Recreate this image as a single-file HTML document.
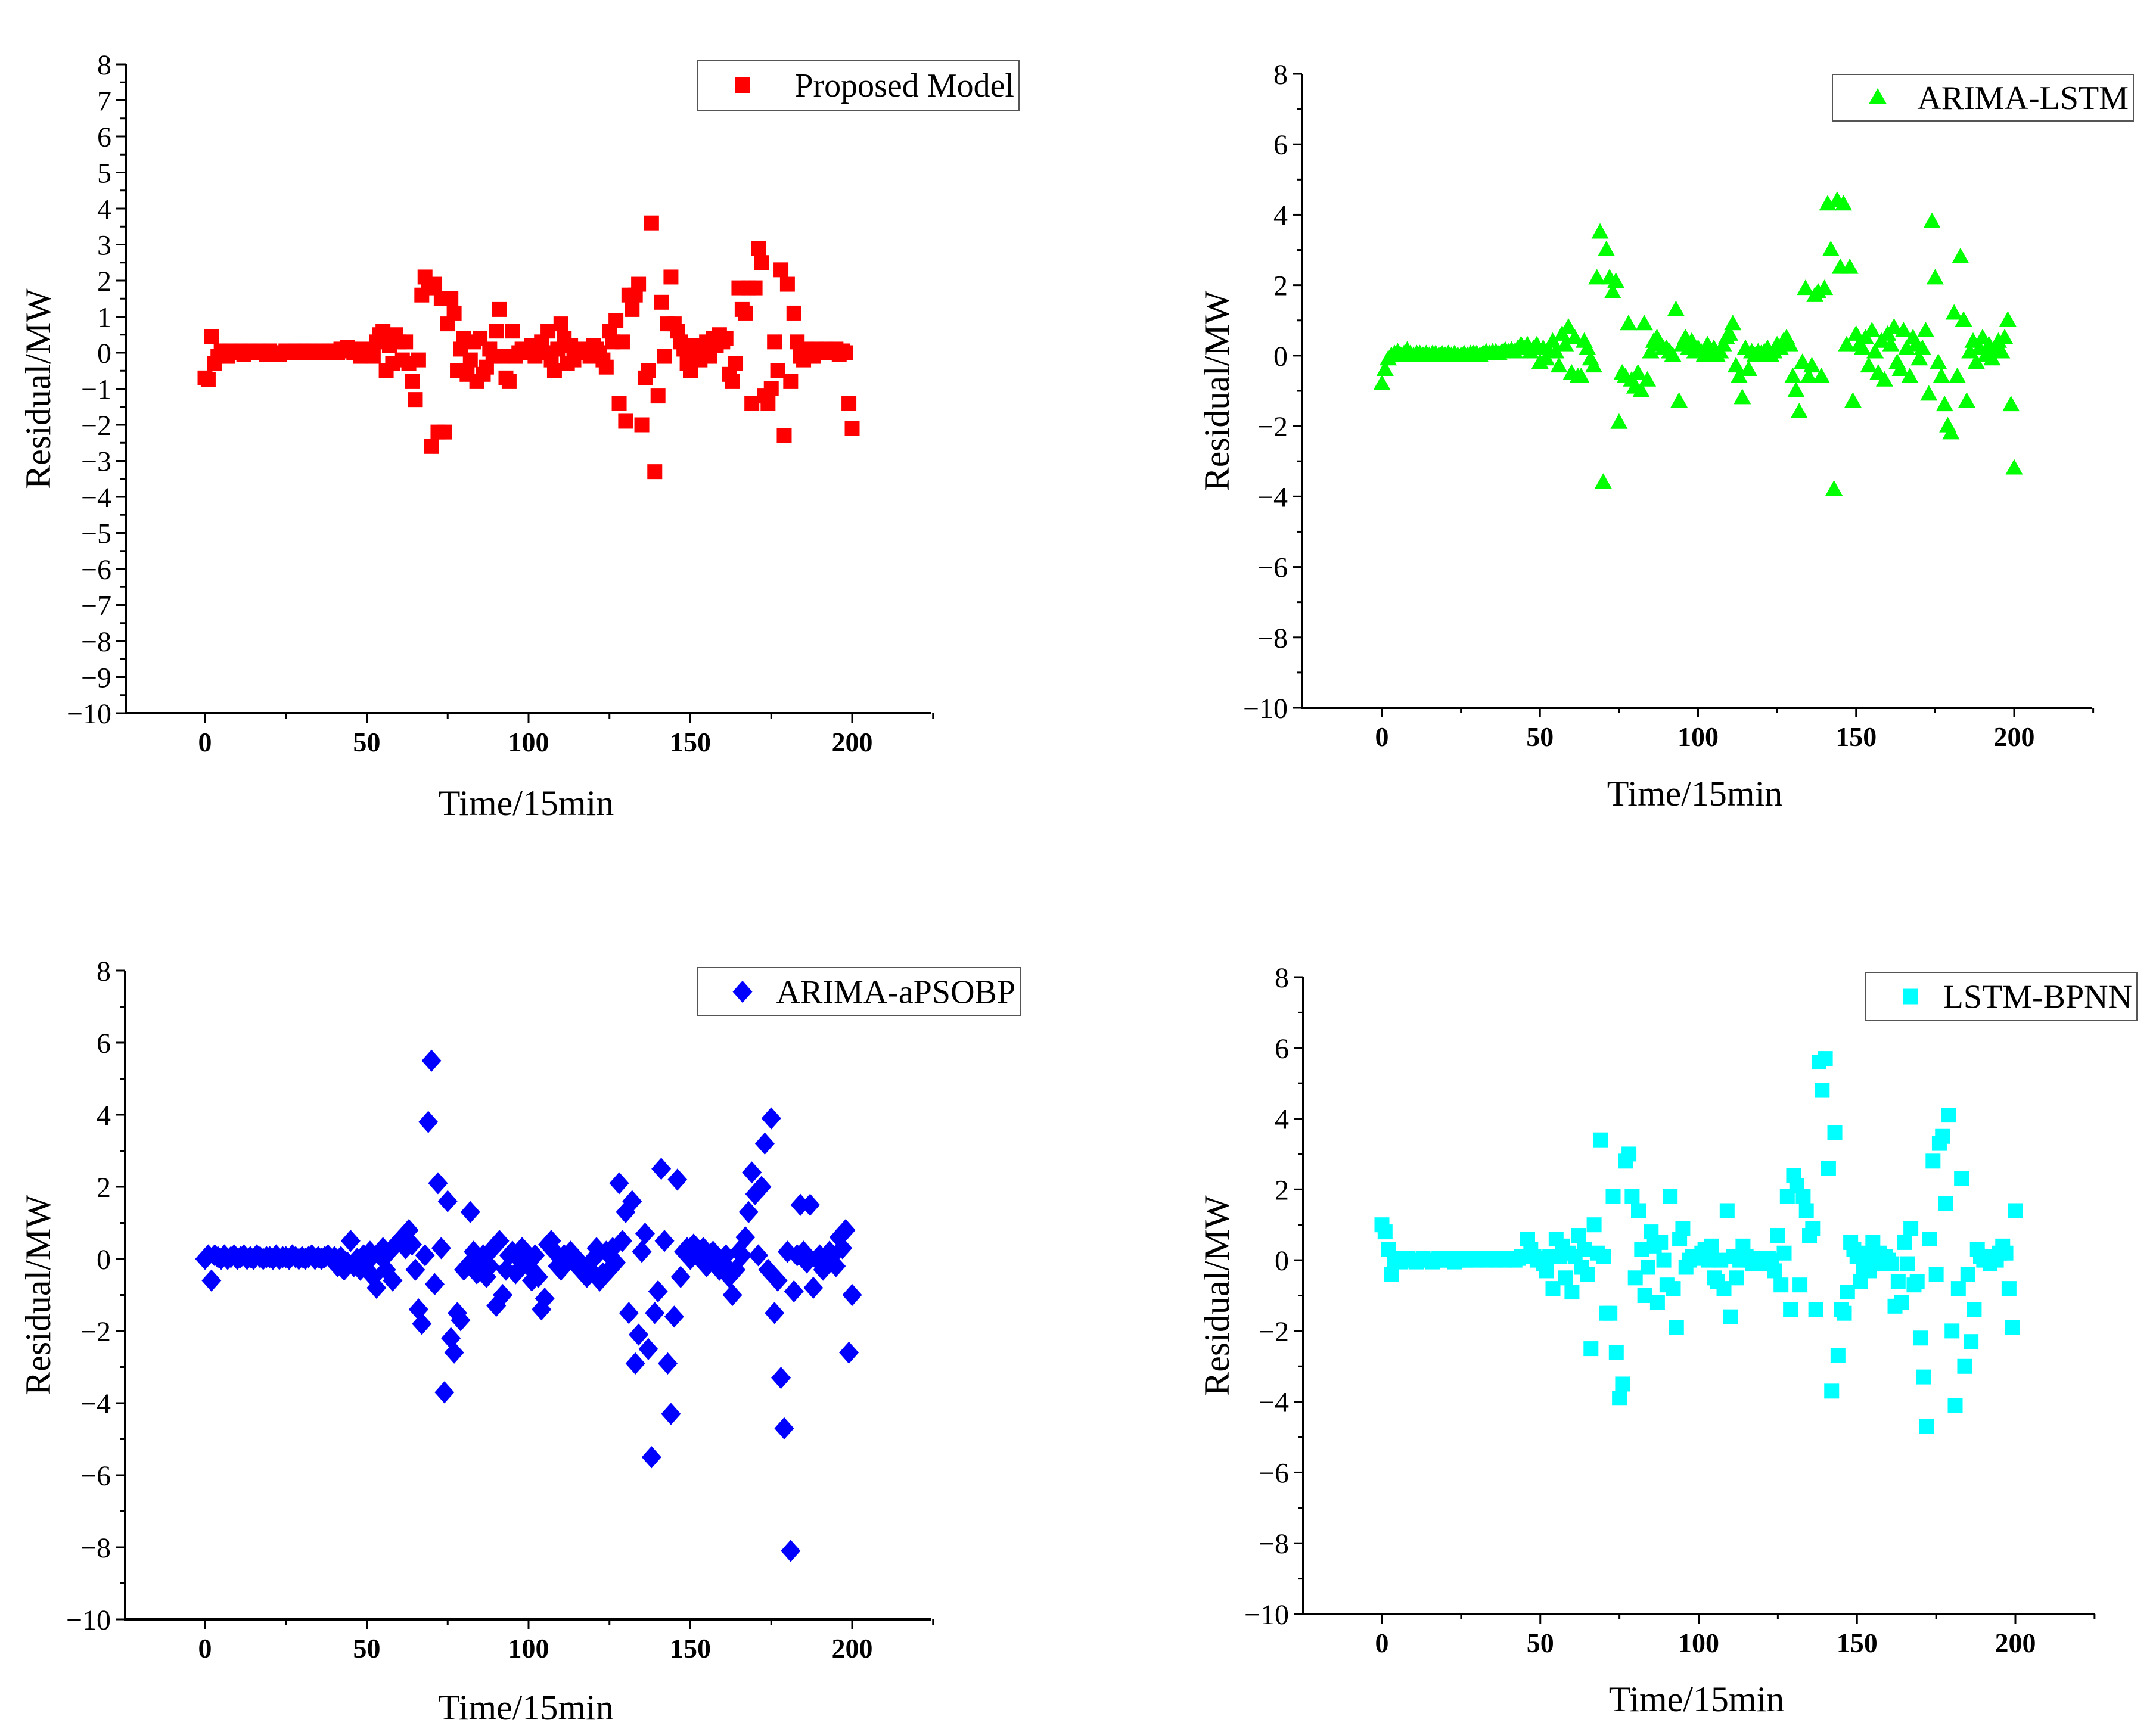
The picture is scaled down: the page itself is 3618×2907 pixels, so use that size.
<!DOCTYPE html>
<html><head><meta charset="utf-8"><style>
html,body{margin:0;padding:0;background:#fff}
svg{display:block}
text{font-family:"Liberation Serif",serif;fill:#000}
</style></head><body>
<svg id="chart" width="3618" height="2907" viewBox="0 0 3618 2907" xmlns="http://www.w3.org/2000/svg"></svg>
<script>
const xTickLabels = [0, 50, 100, 150, 200];
const yTicksFine = [8,7,6,5,4,3,2,1,0,-1,-2,-3,-4,-5,-6,-7,-8,-9,-10];
const yTicksCoarse = [8,6,4,2,0,-2,-4,-6,-8,-10];
const seriesNames = ["Proposed Model","ARIMA-LSTM","ARIMA-aPSOBP","LSTM-BPNN"];
const redVals = [-0.7,-0.75,0.45,-0.3,-0.1,0.05,0,-0.1,0.05,0,
0,0.05,-0.05,0,0.05,0,0,0.05,0,-0.05,
0.05,0,0,-0.05,0,0.05,0,0,0.05,0,
0.05,0.05,0,0.05,0,0,0.05,0,0.05,0,
0.05,0,0.1,0.05,0.15,0.1,0,0.05,-0.1,0.1,
0,0.05,-0.1,0.3,0.5,0.6,-0.5,0.2,-0.3,0.5,
0.3,-0.2,0.3,-0.3,-0.8,-1.3,-0.2,1.6,2.1,1.8,
-2.6,1.9,-2.2,1.5,-2.2,0.8,1.5,1.1,-0.5,0.1,
0.4,-0.6,-0.2,0.3,-0.8,0.4,-0.6,-0.4,0.1,-0.1,
0.6,1.2,-0.1,-0.7,-0.8,0.6,-0.1,0,0.1,0,
0.05,0.2,-0.1,0.2,0.3,0,0.6,-0.2,-0.5,0.1,
0.8,0.4,-0.3,0.2,-0.2,0,0.1,0.05,0,-0.1,
0.2,0.1,0,-0.2,-0.4,0.6,0.3,0.9,-1.4,0.3,
-1.9,1.6,1.2,1.6,1.9,-2.0,-0.7,-0.5,3.6,-3.3,
-1.2,1.4,-0.1,0.8,2.1,0.8,0.6,0.3,0.1,-0.3,
-0.5,0.2,0,-0.2,0.1,0.3,-0.1,0.4,0.2,0.5,
0.3,0.4,-0.6,-0.8,-0.3,1.8,1.2,1.1,1.8,-1.4,
1.8,2.9,2.5,-1.2,-1.4,-1.0,0.3,-0.5,2.3,-2.3,
1.9,-0.8,1.1,0.3,-0.1,-0.2,0.1,0,-0.1,0.1,
0.05,0,0.1,0,0.05,0.1,-0.05,0.05,0,-1.4,-2.1];
const greenVals = [-0.8,-0.4,-0.1,0,0.05,0.1,0,0.05,0.15,0.05,
0,0.05,0.05,0,0.05,0,0.05,0.05,0,0.05,
0,0.05,0,0.05,0,0,0.05,0,0.05,0.05,
0.05,0,0.05,0.1,0.05,0.1,0.1,0.05,0.1,0.15,
0.1,0.15,0.1,0.2,0.3,0.2,0.3,0.1,0.2,0.3,
-0.2,0.2,-0.1,0.1,0.4,0.1,-0.3,0.6,0.3,0.8,
-0.5,0.5,-0.6,-0.6,0.4,0.2,-0.1,-0.3,2.2,3.5,
-3.6,3.0,2.2,1.8,2.1,-1.9,-0.5,-0.6,0.9,-0.7,
-0.9,-0.5,-1.0,0.9,-0.7,0.1,0.4,0.5,0.3,0.2,
0.2,0.1,0,1.3,-1.3,0.3,0.5,0.2,0.4,0.1,
0.2,0.1,0,0.3,0.1,0.2,0,0.1,0.3,0.5,
0.6,0.9,-0.3,-0.6,-1.2,0.2,-0.4,0.1,0,0.1,
0.05,0.1,0.2,0,0.1,0.3,0.2,0.4,0.5,0.3,
-0.6,-1.0,-1.6,-0.2,1.9,-0.6,-0.3,1.7,1.8,-0.6,
1.9,4.3,3.0,-3.8,4.4,2.5,4.3,0.3,2.5,-1.3,
0.6,0.3,0.2,0.5,-0.3,0.7,0.1,-0.5,0.4,-0.7,
0.6,0.3,0.8,-0.2,-0.4,0.7,0.2,-0.6,0.5,0.3,
-0.1,0.2,0.7,-1.1,3.8,2.2,-0.2,-0.6,-1.4,-2.0,
-2.2,1.2,-0.6,2.8,1.0,-1.3,0.1,0.4,-0.2,0.2,
0.5,0,0.3,-0.1,0.2,0.4,0.1,0.5,1.0,-1.4,-3.2];
const blueVals = [0,0.1,-0.6,0.1,0.05,0,0.1,0,0.05,0.1,
0,0.05,0.1,0,0.05,0,0.1,0.05,0,0.05,
0.05,0,0.1,0,0.05,0.05,0,0.1,0.05,0,
0.05,0,0.05,0.1,0,0.05,0,0.05,0.1,0,
0.05,-0.2,0.05,-0.3,-0.1,0.5,-0.2,0,-0.3,0.1,
-0.1,0.2,-0.5,-0.8,0.1,0.3,-0.3,0.2,-0.6,0.4,
0.5,0.6,0.3,0.8,0.4,-0.3,-1.4,-1.8,0.1,3.8,
5.5,-0.7,2.1,0.3,-3.7,1.6,-2.2,-2.6,-1.5,-1.7,
-0.3,-0.2,1.3,0.2,-0.4,0,0.1,-0.5,-0.2,0.3,
-1.3,0.5,-1.0,-0.3,0.1,0.2,-0.4,0,0.3,0.2,
-0.2,-0.6,0.1,-0.5,-1.4,-1.1,0.4,0.5,0.2,-0.2,
-0.3,0.1,0,0.2,-0.1,0,-0.2,-0.4,-0.5,-0.3,
0,0.3,-0.6,-0.4,0.2,-0.3,0.3,-0.1,2.1,0.5,
1.3,-1.5,1.6,-2.9,-2.1,0.2,0.7,-2.5,-5.5,-1.5,
-0.9,2.5,0.5,-2.9,-4.3,-1.6,2.2,-0.5,0.2,0.3,
0,0.4,0.1,0.2,0.3,-0.2,0,0.2,0.1,-0.3,
-0.1,0.1,-0.5,-1.0,-0.3,0.2,0.1,0.6,1.3,2.4,
1.8,0.1,2.0,3.2,-0.3,3.9,-1.5,-0.6,-3.3,-4.7,
0.2,-8.1,-0.9,0.1,1.5,0.2,-0.1,1.5,-0.8,0,
0.1,-0.3,0,0.2,0.1,-0.2,0.6,0.3,0.8,-2.6,-1.0];
const cyanVals = [1.0,0.8,0.3,-0.4,0,0.05,-0.05,0,0.05,0,
0,-0.05,0,0.05,0,0,-0.05,0,0.05,0,
0,0.05,0,-0.05,0,0.05,0,0,0.05,0.05,
0,0.05,0.05,0,0.05,0.05,0,0.05,0.05,0,
0.05,0.05,0,0.05,0.1,0.1,0.6,0.3,0.1,0,
0.05,-0.1,-0.3,0.1,-0.8,0.6,0.1,0.4,-0.5,0.2,
-0.9,0.1,0.7,-0.2,0.3,-0.4,-2.5,1.0,0.2,3.4,
0.1,-1.5,-1.5,1.8,-2.6,-3.9,-3.5,2.8,3.0,1.8,
-0.5,1.4,0.3,-1.0,-0.2,0.8,0.4,-1.2,0.5,0.0,
-0.7,1.8,-0.8,-1.9,0.6,0.9,-0.2,0,0.1,0.05,
0.1,0.2,0.3,0,0.4,-0.5,-0.6,0,-0.8,1.4,
-1.6,0.1,-0.5,0,0.4,0.1,0,-0.1,0.05,0,
0,-0.1,0.05,0,-0.3,0.7,-0.7,0.2,1.8,-1.4,
2.4,2.1,-0.7,1.8,1.4,0.7,0.9,-1.4,5.6,4.8,
5.7,2.6,-3.7,3.6,-2.7,-1.4,-1.5,-0.9,0.5,0.3,
0.1,-0.6,-0.2,0.2,-0.3,0.5,0,0.2,-0.1,0.1,
0,-0.1,-1.3,-0.6,-1.2,0.5,-0.1,0.9,-0.7,-0.6,
-2.2,-3.3,-4.7,0.6,2.8,-0.4,3.3,3.5,1.6,4.1,
-2.0,-4.1,-0.8,2.3,-3.0,-0.4,-2.3,-1.4,0.3,0.1,
0,0.1,-0.1,0.1,0,0.2,0.4,0.2,-0.8,-1.9,1.4];

const NS = "http://www.w3.org/2000/svg";
const svg = document.getElementById('chart');
function mk(tag, attrs, parent){ const e=document.createElementNS(NS,tag); for(const k in attrs) e.setAttribute(k,attrs[k]); (parent||svg).appendChild(e); return e; }

const panels = [
 {vals:redVals, color:"#ff0000", shape:"square", name:seriesNames[0], left:211, x0:344, x200:1430, right:1563, yTop:108, yBot:1197, ticks:yTicksFine, minorStep:0.5, lg:[1170,101,1710,185], xt:1350, yt:64, key:"proposed"},
 {vals:greenVals, color:"#00ff00", shape:"triangle", name:seriesNames[1], left:2185, x0:2319, x200:3380, right:3511, yTop:124, yBot:1188, ticks:yTicksCoarse, minorStep:1, lg:[3075,125,3580,203], xt:1334, yt:2042, key:"arima-lstm"},
 {vals:blueVals, color:"#0000ff", shape:"diamond", name:seriesNames[2], left:210, x0:344, x200:1430, right:1563, yTop:1629, yBot:2718, ticks:yTicksCoarse, minorStep:1, lg:[1170,1624,1712,1705], xt:2868, yt:64, key:"arima-apsobp"},
 {vals:cyanVals, color:"#00ffff", shape:"square", name:seriesNames[3], left:2187, x0:2319, x200:3382, right:3515, yTop:1640, yBot:2709, ticks:yTicksCoarse, minorStep:1, lg:[3130,1632,3586,1713], xt:2854, yt:2042, key:"lstm-bpnn"}
];

function marker(g, shape, cx, cy, color, s){
  let e;
  if(shape==="square") e=mk('rect',{x:cx-s/2,y:cy-s/2,width:s,height:s,fill:color},g);
  else if(shape==="triangle") e=mk('polygon',{points:`${cx},${cy-s*0.62} ${cx-s*0.58},${cy+s*0.42} ${cx+s*0.58},${cy+s*0.42}`,fill:color},g);
  else e=mk('polygon',{points:`${cx},${cy-s*0.62} ${cx+s*0.55},${cy} ${cx},${cy+s*0.62} ${cx-s*0.55},${cy}`,fill:color},g);
  return e;
}

panels.forEach((p)=>{
  const g = mk('g',{});
  
  
  const X = t => p.x0 + (t/200)*(p.x200-p.x0);
  const Y = v => p.yTop + (8-v)/18*(p.yBot-p.yTop);
  const ya = mk('line',{x1:p.left,y1:p.yTop,x2:p.left,y2:p.yBot+2,stroke:"#000","stroke-width":4},g);
  
  
  const xa = mk('line',{x1:p.left-2,y1:p.yBot,x2:p.right,y2:p.yBot,stroke:"#000","stroke-width":4},g);
  
  
  for(let v=-10; v<=8+1e-9; v+=p.minorStep){
    const major = p.ticks.some(t=>Math.abs(t-v)<1e-6);
    mk('line',{x1:p.left-(major?16:9),y1:Y(v),x2:p.left,y2:Y(v),stroke:"#000","stroke-width":3},g);
  }
  p.ticks.forEach(v=>{
    const t = mk('text',{x:p.left-24,y:Y(v)+17,"text-anchor":"end","font-size":48},g);
    t.textContent = v<0 ? "\u2212"+Math.abs(v) : String(v);
    
    
  });
  for(let t=-25; t<=225; t+=25){
    const xp = X(t); if(xp<p.left+2) continue;
    const major = xTickLabels.includes(t);
    mk('line',{x1:xp,y1:p.yBot,x2:xp,y2:p.yBot+(major?16:9),stroke:"#000","stroke-width":3},g);
  }
  xTickLabels.forEach(t=>{
    const tx = mk('text',{x:X(t),y:p.yBot+64,"text-anchor":"middle","font-size":46,"font-weight":"bold"},g);
    tx.textContent = String(t);
    
    
  });
  const xt = mk('text',{x:(p.left+p.right)/2 - 4,y:p.xt+18,"text-anchor":"middle","font-size":60},g);
  xt.textContent = "Time/15min";
  
  
  const ymid = (p.yTop+p.yBot)/2;
  const yt = mk('text',{x:p.yt,y:ymid,"text-anchor":"middle","font-size":60,transform:`rotate(-90 ${p.yt} ${ymid})`,dy:20},g);
  yt.textContent = "Residual/MW";
  
  
  p.vals.forEach((v,i)=>{
    const m = marker(g, p.shape, X(i), Y(v), p.color, p.shape==="diamond"?30:25);
    
    
  });
  const [lx1,ly1,lx2,ly2] = p.lg;
  const lg = mk('g',{},g);
  
  
  mk('rect',{x:lx1,y:ly1,width:lx2-lx1,height:ly2-ly1,fill:"#fff",stroke:"#555","stroke-width":2},lg);
  const cy=(ly1+ly2)/2;
  marker(lg, p.shape, lx1+76, cy, p.color, p.shape==="diamond"?30:26);
  const lt = mk('text',{x:lx2-8,y:cy+19,"text-anchor":"end","font-size":56},lg);
  lt.textContent = p.name;
  
  
});
</script>
</body></html>
